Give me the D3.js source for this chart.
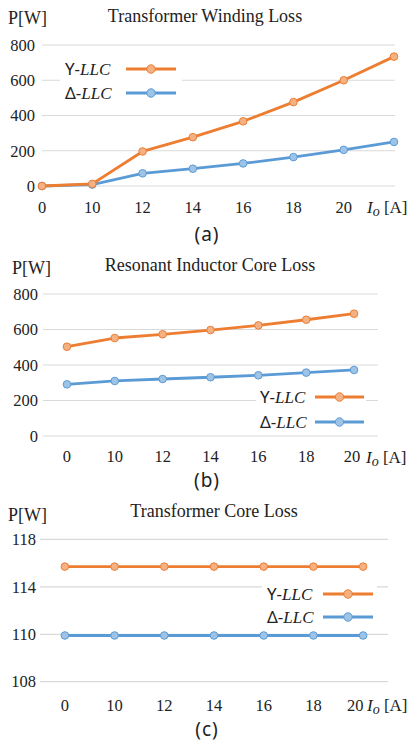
<!DOCTYPE html>
<html>
<head>
<meta charset="utf-8">
<script src="https://cdn.jsdelivr.net/npm/d3@7"></script>
<style>
body{margin:0;background:#fff}
text{fill:#222}
</style>
</head>
<body>
<script>
// ---- data ----
var labelsA = ["0","10","12","14","16","18","20",""]
var windingY = [0, 12, 196, 277, 367, 476, 600, 734]
var windingD = [0, 8, 72, 98, 128, 164, 205, 250]

var labelsBC = ["0","10","12","14","16","18","20"]
var inductorY = [503, 552, 573, 597, 623, 655, 689]
var inductorD = [291, 310, 321, 331, 342, 357, 372]

var coreY = [115.7, 115.7, 115.7, 115.7, 115.7, 115.7, 115.7]
var coreD = [109.95, 109.95, 109.95, 109.95, 109.95, 109.95, 109.95]

var ticksAB = [0, 200, 400, 600, 800]
var ticksC = [108, 110, 114, 118]

var orange = "#ED7D31", orangeFill = "#F4B183"
var blue = "#5B9BD5", blueFill = "#9DC3E6"
var serif = "'Liberation Serif','Times New Roman',serif"
var sans = "'Noto Sans','DejaVu Sans',sans-serif"

var svg = d3.select("body").append("svg").attr("width", 415).attr("height", 745)

function panel(p)
{
	var g = svg.append("g")
	var idx = d3.range(p.labels.length)
	var x
	if (p.point) x = d3.scalePoint().domain(idx).range(p.xr)
	else x = d3.scaleBand().domain(idx).range(p.xr)
	var cx = function(i){return p.point ? x(i) : x(i) + x.bandwidth()/2}
	var y = d3.scaleLinear().domain(p.yd).range(p.yr)

	// gridlines
	g.selectAll(".grid").data(p.ticks).enter().append("line")
		.attr("x1", p.grid[0]).attr("x2", p.grid[1])
		.attr("y1", function(d){return y(d)}).attr("y2", function(d){return y(d)})
		.attr("stroke", "#d9d9d9").attr("stroke-width", 1.2)

	// y axis labels
	var yAxis = d3.axisLeft(y).tickValues(p.ticks).tickSize(0).tickPadding(0)
	var ya = g.append("g").attr("transform", "translate(" + p.yLabelX + ",0)").call(yAxis)
	ya.attr("font-family", serif).attr("font-size", 16.5)
	ya.select(".domain").remove()
	ya.selectAll("text").attr("fill", "#222")

	// x axis labels
	g.selectAll(".xl").data(idx).enter().append("text")
		.attr("x", function(i){return cx(i) + (i == p.labels.length-1 ? (p.lastShift||0) : 0)})
		.attr("y", p.xLabelY)
		.attr("text-anchor", "middle")
		.attr("font-family", serif).attr("font-size", 16.5)
		.text(function(i){return p.labels[i]})

	// legend background
	g.append("rect").attr("x", p.legBg[0]).attr("y", p.legBg[1])
		.attr("width", p.legBg[2]).attr("height", p.legBg[3]).attr("fill", "#fff")

	var series = [
		{name:"\u0394", values:p.d, c:blue, f:blueFill, row:1},
		{name:"Y", values:p.y, c:orange, f:orangeFill, row:0}
	]
	var line = d3.line().x(function(d,i){return cx(i)}).y(function(d){return y(d)})
	series.forEach(function(s)
	{
		g.append("path").datum(s.values).attr("d", line)
			.attr("fill", "none").attr("stroke", s.c).attr("stroke-width", 2.8)
			.attr("stroke-linejoin", "round")
		g.selectAll(null).data(s.values).enter().append("circle")
			.attr("cx", function(d,i){return cx(i)}).attr("cy", function(d){return y(d)})
			.attr("r", 3.8).attr("fill", s.f).attr("stroke", s.c).attr("stroke-width", 1)

		// legend entry
		var ly = p.legRows[s.row]
		var t = g.append("text").attr("x", p.legText).attr("y", ly + 6)
			.attr("font-size", 17)
		t.append("tspan").attr("font-family", sans).text(s.name + "-")
		t.append("tspan").attr("font-family", serif).attr("font-style", "italic").text("LLC")
		g.append("line").attr("x1", p.legLine[0]).attr("x2", p.legLine[1])
			.attr("y1", ly).attr("y2", ly).attr("stroke", s.c).attr("stroke-width", 2.8)
		g.append("circle").attr("cx", (p.legLine[0] + p.legLine[1])/2).attr("cy", ly)
			.attr("r", 4.2).attr("fill", s.f).attr("stroke", s.c).attr("stroke-width", 1)
	})

	// titles and labels
	g.append("text").attr("x", p.title[0]).attr("y", p.title[1]).attr("text-anchor", "middle")
		.attr("font-family", serif).attr("font-size", 18).text(p.titleText)
	g.append("text").attr("x", p.pw[0]).attr("y", p.pw[1])
		.attr("font-family", serif).attr("font-size", 18).text("P[W]")
	var io = g.append("text").attr("x", p.io[0]).attr("y", p.io[1])
		.attr("font-family", serif).attr("font-size", 17)
	io.append("tspan").attr("font-style", "italic").text("I")
	io.append("tspan").attr("font-style", "italic").attr("font-size", 14).attr("dy", 3).text("o")
	io.append("tspan").attr("dy", -3).text(" [A]")
	g.append("text").attr("x", 207).attr("y", p.sub).attr("text-anchor", "middle")
		.attr("font-family", sans).attr("font-size", 19).attr("letter-spacing", 1)
		.text(p.subText)
}

panel({labels:labelsA, y:windingY, d:windingD, point:true, xr:[42,394], grid:[42,395],
	yd:[0,800], yr:[186,45], ticks:ticksAB, yLabelX:35, xLabelY:213,
	legBg:[60,57,122,48], legText:65, legLine:[126,176], legRows:[69,93],
	title:[205,22], titleText:"Transformer Winding Loss", pw:[8,24], io:[367,213], sub:241, subText:"(a)"})

panel({labels:labelsBC, y:inductorY, d:inductorD, point:false, xr:[43,378], grid:[43,378],
	yd:[0,800], yr:[436,294], ticks:ticksAB, yLabelX:38, xLabelY:462, lastShift:-2,
	legBg:[256,385,110,48], legText:260, legLine:[315,364], legRows:[397,422],
	title:[210,271], titleText:"Resonant Inductor Core Loss", pw:[12,274], io:[366,463], sub:487, subText:"(b)"})

panel({labels:labelsBC, y:coreY, d:coreD, point:false, xr:[40,388], grid:[40,388],
	yd:[108,110,118], yr:[681.7,634.3,539.3], ticks:ticksC, yLabelX:36, xLabelY:711, lastShift:-8,
	legBg:[262,582,115,46], legText:267, legLine:[323,373], legRows:[594,617],
	title:[214,517], titleText:"Transformer Core Loss", pw:[8,521], io:[367,711], sub:736, subText:"(c)"})
</script>
</body>
</html>
